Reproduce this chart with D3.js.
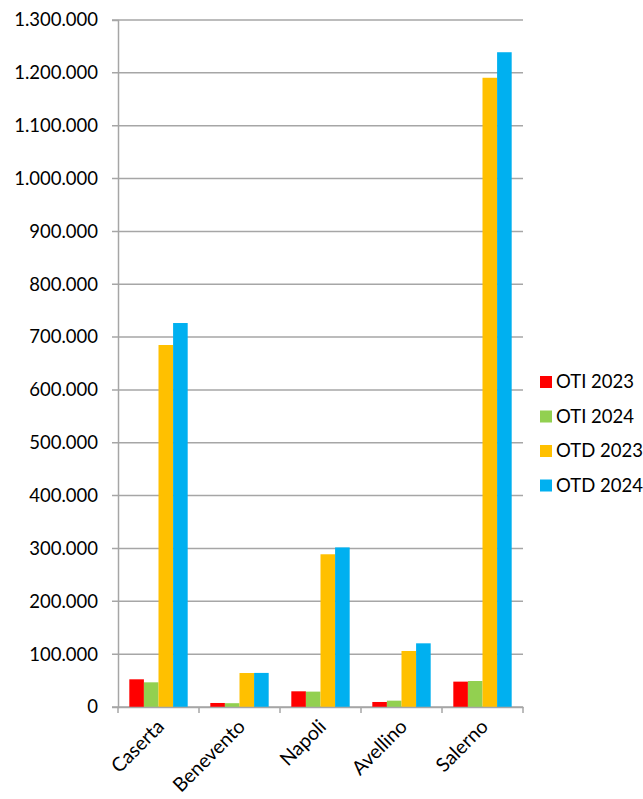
<!DOCTYPE html>
<html>
<head>
<meta charset="utf-8">
<script src="https://cdn.jsdelivr.net/npm/d3@7"></script>
<style>
  body { margin: 0; background: #fff; }
  text { font-family: Lato, "Open Sans", sans-serif; fill: #000; }
</style>
</head>
<body>
<svg width="643" height="799"></svg>
<script>
const categories = ["Caserta", "Benevento", "Napoli", "Avellino", "Salerno"];
const seriesNames = ["OTI 2023", "OTI 2024", "OTD 2023", "OTD 2024"];
const oti2023 = [52400, 7600, 29700, 9500, 48000];
const oti2024 = [46700, 7200, 29100, 12000, 49200];
const otd2023 = [685000, 64300, 289000, 106000, 1190700];
const otd2024 = [726600, 64500, 302000, 120500, 1239000];
const colors = ["#FF0000", "#92D050", "#FFC000", "#00B0F0"];
const yTicks = d3.range(0, 1300001, 100000);

const seriesValues = [oti2023, oti2024, otd2023, otd2024];

var svg = d3.select("svg"),
  margin = { top: 20, right: 120, bottom: 92, left: 118 },
  width = +svg.attr("width") - margin.left - margin.right,
  height = +svg.attr("height") - margin.top - margin.bottom;

var g = svg
  .append("g")
  .attr("transform", "translate(" + margin.left + "," + margin.top + ")");

var x0 = d3.scaleBand().domain(categories).range([0, width]).padding(0);
var bw = x0.bandwidth() / 5.55;
var gap = (x0.bandwidth() - 4 * bw) / 2;
var x1 = d3
  .scaleBand()
  .domain(seriesNames)
  .range([gap, x0.bandwidth() - gap])
  .padding(0);
var y = d3.scaleLinear().domain([0, 1300000]).range([height, 0]);

var fmt = d3.formatLocale({ decimal: ",", thousands: ".", grouping: [3], currency: ["€", ""] }).format(",d");

// gridlines
g.append("g")
  .selectAll("line")
  .data(yTicks)
  .enter()
  .append("line")
  .attr("x1", -6)
  .attr("x2", width)
  .attr("y1", d => y(d))
  .attr("y2", d => y(d))
  .attr("stroke", "#a6a6a6")
  .attr("stroke-width", 1.5);

// bars
seriesNames.forEach((name, si) => {
  g.append("g")
    .selectAll("rect")
    .data(categories)
    .enter()
    .append("rect")
    .attr("x", c => x0(c) + x1(name))
    .attr("width", x1.bandwidth())
    .attr("y", (c, i) => y(seriesValues[si][i]))
    .attr("height", (c, i) => height - y(seriesValues[si][i]))
    .attr("fill", colors[si]);
});

// y axis
var yAxis = g.append("g").call(
  d3.axisLeft(y).tickValues(yTicks).tickFormat(fmt).tickSize(6).tickPadding(14)
);
yAxis.select(".domain").attr("stroke", "#a6a6a6").attr("stroke-width", 1.5);
yAxis.selectAll(".tick line").attr("stroke", "none");
yAxis.selectAll("text").style("font-size", "18.5px");

// x axis
var xAxis = g
  .append("g")
  .attr("transform", "translate(0," + height + ")")
  .call(d3.axisBottom(x0).tickSize(0).tickFormat(""));
xAxis.select(".domain").attr("stroke", "#a6a6a6").attr("stroke-width", 1.5);
var bounds = categories.map(c => x0(c)).concat([width]);
xAxis
  .selectAll(".bound")
  .data(bounds)
  .enter()
  .append("line")
  .attr("x1", d => d)
  .attr("x2", d => d)
  .attr("y1", 0)
  .attr("y2", 6)
  .attr("stroke", "#a6a6a6")
  .attr("stroke-width", 1.5);
xAxis
  .selectAll(".lbl")
  .data(categories)
  .enter()
  .append("text")
  .attr("transform", c => `translate(${x0(c) + x0.bandwidth() / 2 + 2},${16}) rotate(-45)`)
  .attr("text-anchor", "end")
  .attr("dy", "0.35em")
  .style("font-size", "19.5px")
  .text(d => d);

// legend
var lgs = svg
  .selectAll(".legendItem")
  .data(seriesNames)
  .enter()
  .append("g")
  .attr("class", "legendItem")
  .attr("transform", (d, i) => `translate(540,${382 + i * 34.5})`);
lgs
  .append("rect")
  .attr("x", 0)
  .attr("y", -6)
  .attr("width", 12)
  .attr("height", 12)
  .attr("fill", (d, i) => colors[i]);
lgs
  .append("text")
  .attr("x", 16)
  .attr("y", 0)
  .attr("dy", "0.35em")
  .style("font-size", "18.5px")
  .text(d => d);
</script>
</body>
</html>
